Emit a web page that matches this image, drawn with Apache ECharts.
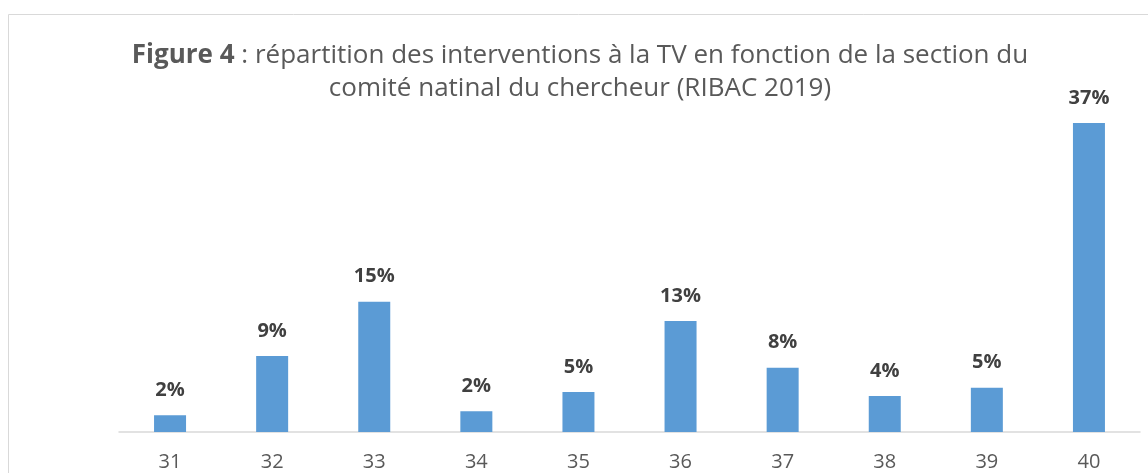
<!DOCTYPE html>
<html>
<head>
<meta charset="utf-8">
<script src="https://cdn.jsdelivr.net/npm/echarts@6/dist/echarts.min.js"></script>
<style>
  html, body { margin: 0; padding: 0; background: #fff; }
  #chart { width: 1148px; height: 473px; }
</style>
</head>
<body>
<div id="chart"></div>
<script>
const sections = ['31', '32', '33', '34', '35', '36', '37', '38', '39', '40']
const shares = [2.0, 9.1, 15.6, 2.5, 4.8, 13.3, 7.7, 4.3, 5.3, 37.0]
const shareLabels = ['2%', '9%', '15%', '2%', '5%', '13%', '8%', '4%', '5%', '37%']

const chart = echarts.init(document.getElementById('chart'))

chart.setOption({
  animation: false,
  textStyle: { fontFamily: 'Open Sans' },
  title: {
    text: '{b|Figure 4} : répartition des interventions à la TV en fonction de la section du\ncomité natinal du chercheur (RIBAC 2019)',
    left: 575,
    textAlign: 'center',
    top: 34,
    textStyle: {
      fontSize: 26,
      fontWeight: 'normal',
      color: '#595959',
      lineHeight: 33,
      rich: {
        b: { fontSize: 26, fontWeight: 'bold', color: '#595959', lineHeight: 33 }
      }
    }
  },
  graphic: [{
    type: 'rect',
    shape: { x: 8.5, y: 14.5, width: 1200, height: 500 },
    style: { fill: 'none', stroke: '#d9d9d9', lineWidth: 1 },
    silent: true
  }],
  grid: { left: 119, right: 8, top: 98, bottom: 41 },
  xAxis: {
    type: 'category',
    data: sections,
    axisLine: { lineStyle: { color: '#d9d9d9', width: 1.5 } },
    axisTick: { show: false },
    axisLabel: { color: '#595959', fontSize: 20, margin: 20 }
  },
  yAxis: {
    type: 'value',
    min: 0,
    max: 40,
    show: false,
    splitLine: { show: false }
  },
  series: [{
    type: 'bar',
    data: shares,
    barWidth: 32,
    itemStyle: { color: '#5b9bd5' },
    label: {
      show: true,
      position: 'top',
      distance: 15,
      color: '#404040',
      fontSize: 20,
      fontWeight: 'bold',
      formatter: p => shareLabels[p.dataIndex]
    }
  }]
})
</script>
</body>
</html>
